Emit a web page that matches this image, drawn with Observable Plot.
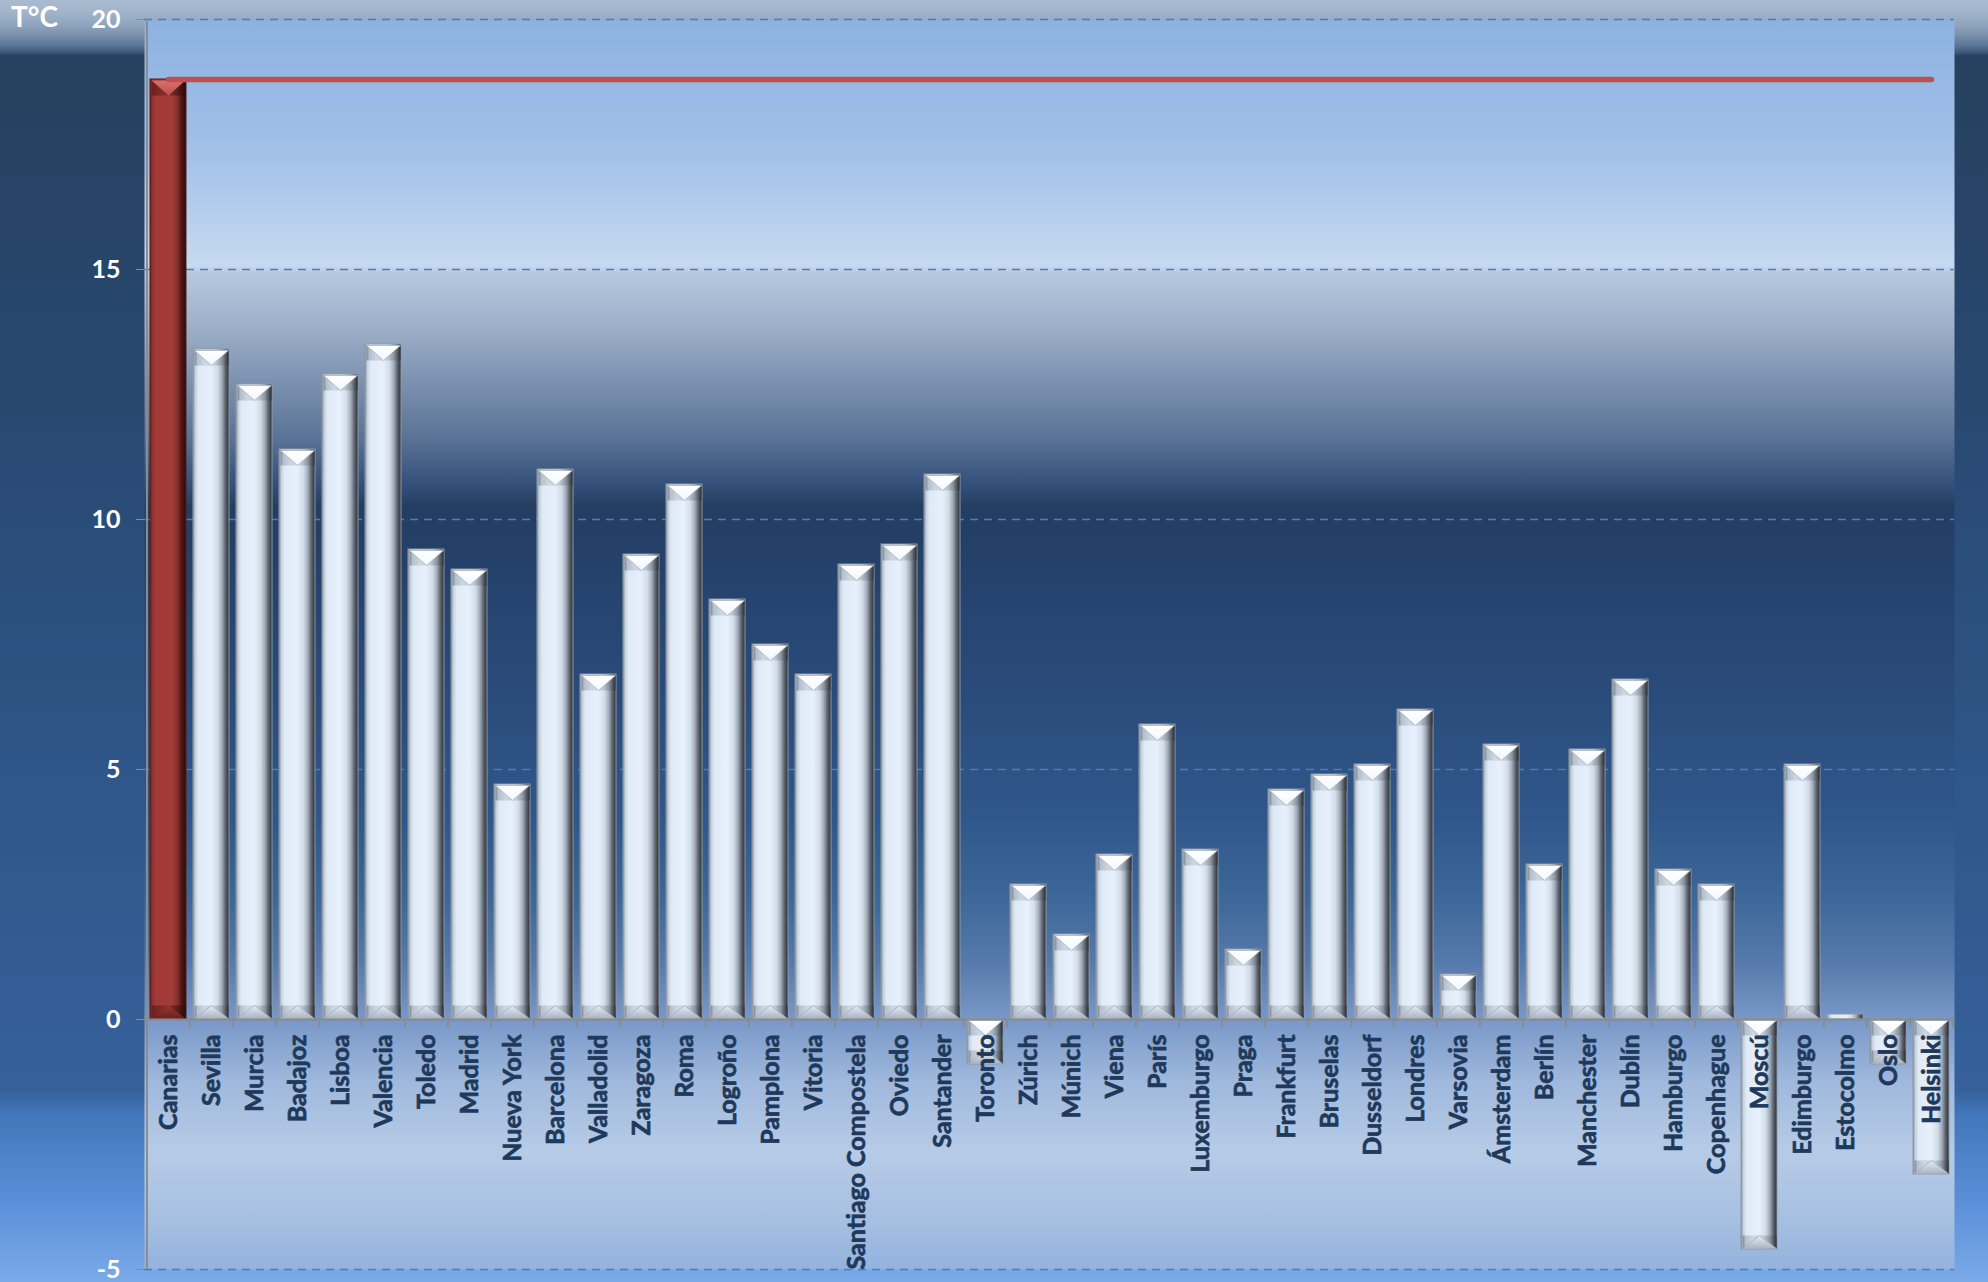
<!DOCTYPE html>
<html>
<head>
<meta charset="utf-8">
<script src="https://cdn.jsdelivr.net/npm/d3@7"></script>
<script src="https://cdn.jsdelivr.net/npm/@observablehq/plot@0.6"></script>
<style>
html, body { margin: 0; padding: 0; }
body { width: 1988px; height: 1282px; overflow: hidden; }
#wrap {
  position: relative; width: 1988px; height: 1282px;
  background: linear-gradient(to bottom,
    #a9bbd0 0px, #a1b4ca 12px, #8fa4be 25px, #7a90ad 35px, #5d7798 45px, #3f5a7d 52px,
    #26415f 56px, #284870 400px, #2f578a 800px, #36609a 1090px, #4377bb 1115px,
    #5a8fd8 1200px, #7aaae8 1282px);
}
#unit {
  position: absolute; left: 11px; top: 2px; color: #fff;
  font: bold 28px Lato, sans-serif; line-height: 1;
}
#wrap svg { position: absolute; left: 0; top: 0; }
#wrap svg [aria-label="y-axis tick label"] text { font-weight: bold; }
</style>
</head>
<body>
<div id="wrap"><div id="unit">T°C</div></div>
<script>
// ---- data ----
const cities = ["Canarias","Sevilla","Murcia","Badajoz","Lisboa","Valencia","Toledo","Madrid",
  "Nueva York","Barcelona","Valladolid","Zaragoza","Roma","Logroño","Pamplona","Vitoria",
  "Santiago Compostela","Oviedo","Santander","Toronto","Zúrich","Múnich","Viena","París",
  "Luxemburgo","Praga","Frankfurt","Bruselas","Dusseldorf","Londres","Varsovia","Ámsterdam",
  "Berlín","Manchester","Dublín","Hamburgo","Copenhague","Moscú","Edimburgo","Estocolmo",
  "Oslo","Helsinki"];
const temps = [18.8, 13.4, 12.7, 11.4, 12.9, 13.5, 9.4, 9.0,
  4.7, 11.0, 6.9, 9.3, 10.7, 8.4, 7.5, 6.9,
  9.1, 9.5, 10.9, -0.9, 2.7, 1.7, 3.3, 5.9,
  3.4, 1.4, 4.6, 4.9, 5.1, 6.2, 0.9, 5.5,
  3.1, 5.4, 6.8, 3.0, 2.7, -4.6, 5.1, 0.1,
  -0.9, -3.1];
const refTemp = 18.8;
const highlight = "Canarias";
const yTicks = [-5, 0, 5, 10, 15, 20];

// ---- layout ----
const W = 1988, H = 1282;
const mL = 144, mR = 34, mT = 19, mB = 13;
const padIn = 0.17, padOut = 0.085;
const step = (W - mL - mR) / cities.length;
const bw = step * (1 - padIn);

const table = cities.map((city, i) => ({city, temp: temps[i]}));
const others = table.filter(d => d.city !== highlight);
const hi = table.filter(d => d.city === highlight);
const bevelOK = d => Math.abs(d.temp) >= 0.5;
const topOf = d => Math.max(0, d.temp);
const botOf = d => Math.min(0, d.temp);

// bevel shapes (pixel sizes relative to the bar)
const hw = bw / 2 - 1;
const TH = 16, BH = 14;
const topBand = {draw(ctx) { ctx.moveTo(-hw, 1); ctx.lineTo(hw, 1); ctx.lineTo(hw, TH); ctx.lineTo(-hw, TH); ctx.closePath(); }};
const topV = {draw(ctx) { ctx.moveTo(-hw, 1); ctx.lineTo(hw, 1); ctx.lineTo(0, TH); ctx.closePath(); }};
const botBand = {draw(ctx) { ctx.moveTo(-hw, -1); ctx.lineTo(hw, -1); ctx.lineTo(hw, -BH); ctx.lineTo(-hw, -BH); ctx.closePath(); }};
const botV = {draw(ctx) { ctx.moveTo(-hw, -1); ctx.lineTo(hw, -1); ctx.lineTo(0, -BH); ctx.closePath(); }};

const labelStyle = {fontFamily: "Lato, sans-serif", fontWeight: "bold"};

const chart = Plot.plot({
  width: W, height: H,
  marginLeft: mL, marginRight: mR, marginTop: mT, marginBottom: mB,
  style: {background: "transparent", fontFamily: "Lato, sans-serif", overflow: "visible"},
  x: {type: "band", domain: cities, paddingInner: padIn, paddingOuter: padOut, axis: null},
  y: {domain: [yTicks[0], yTicks[yTicks.length - 1]], label: null},
  marks: [
    Plot.frame({fill: "url(#plotBg)", stroke: "none"}),
    Plot.gridY(yTicks, {stroke: "#4a7ebf", strokeOpacity: 1, strokeWidth: 1.6, strokeDasharray: "8,6"}),
    Plot.barY(others, {x: "city", y: "temp", fill: "url(#barGrad)", stroke: "#8f99a6", strokeWidth: 1}),
    Plot.barY(hi, {x: "city", y: "temp", fill: "url(#redGrad)", stroke: "#5a1a19", strokeWidth: 1}),
    // bevels
    Plot.dot(others.filter(bevelOK), {x: "city", y: topOf, symbol: topBand, fill: "url(#bevelH)", stroke: "none"}),
    Plot.dot(others.filter(bevelOK), {x: "city", y: topOf, symbol: topV, fill: "url(#whiteTop)", stroke: "#a9b3bf", strokeWidth: 0.8}),
    Plot.dot(others.filter(bevelOK), {x: "city", y: botOf, symbol: botBand, fill: "url(#bevelH)", stroke: "none"}),
    Plot.dot(others.filter(bevelOK), {x: "city", y: botOf, symbol: botV, fill: "url(#grayBot)", stroke: "#a3adb9", strokeWidth: 0.8}),
    Plot.dot(hi, {x: "city", y: topOf, symbol: topBand, fill: "url(#redBevelH)", stroke: "none"}),
    Plot.dot(hi, {x: "city", y: topOf, symbol: topV, fill: "url(#redTop)", stroke: "none"}),
    Plot.dot(hi, {x: "city", y: botOf, symbol: botBand, fill: "url(#redBevelH)", stroke: "none"}),
    Plot.dot(hi, {x: "city", y: botOf, symbol: botV, fill: "url(#redBot)", stroke: "none"}),
    // reference line
    Plot.lineY(cities, {x: d => d, y: () => refTemp, stroke: "#c0504d", strokeWidth: 5.5, strokeLinecap: "round"}),
    // axes
    Plot.ruleY([0], {stroke: "#8c8c8c", strokeWidth: 2}),
    Plot.ruleX(cities.slice(0, 1), {x: d => d, dx: -step / 2, stroke: "#8c8c8c", strokeWidth: 2}),
    Plot.ruleX(cities, {x: d => d, y1: () => 0, y2: () => 0, insetBottom: -8, dx: -step / 2, stroke: "#8c8c8c", strokeWidth: 2}),
    Plot.ruleX(cities.slice(-1), {x: d => d, y1: () => 0, y2: () => 0, insetBottom: -8, dx: step / 2, stroke: "#8c8c8c", strokeWidth: 2}),
    Plot.axisY({ticks: yTicks, tickSize: 8, tickPadding: 16, stroke: "#8c8c8c", fill: "#ffffff", fontSize: 25, label: null, tickFormat: d => String(d)}),
    Plot.text(table, {x: "city", y: () => 0, text: "city", rotate: -90, textAnchor: "end", dy: 15,
      fill: "#1f395b", stroke: "#1f395b", strokeWidth: 0.7, fontSize: 25, ...labelStyle})
  ]
});

d3.select(chart).insert("defs", ":first-child").html(`
  <linearGradient id="plotBg" x1="0" y1="0" x2="0" y2="1">
    <stop offset="0" stop-color="#8db2e1"/>
    <stop offset="0.105" stop-color="#a2c0e8"/>
    <stop offset="0.197" stop-color="#c6d9f1"/>
    <stop offset="0.203" stop-color="#b6c8df"/>
    <stop offset="0.241" stop-color="#a0b3cc"/>
    <stop offset="0.289" stop-color="#7d92b0"/>
    <stop offset="0.337" stop-color="#587194"/>
    <stop offset="0.372" stop-color="#34507a"/>
    <stop offset="0.39" stop-color="#243e62"/>
    <stop offset="0.433" stop-color="#24416a"/>
    <stop offset="0.545" stop-color="#2a4c7b"/>
    <stop offset="0.641" stop-color="#30578b"/>
    <stop offset="0.705" stop-color="#3e6899"/>
    <stop offset="0.753" stop-color="#5579ab"/>
    <stop offset="0.8" stop-color="#7898c8"/>
    <stop offset="0.849" stop-color="#9fb8dc"/>
    <stop offset="0.905" stop-color="#b6cbe6"/>
    <stop offset="0.953" stop-color="#a9c1e2"/>
    <stop offset="1" stop-color="#93b3de"/>
  </linearGradient>
  <linearGradient id="barGrad" x1="0" y1="0" x2="1" y2="0">
    <stop offset="0" stop-color="#7f8a98"/>
    <stop offset="0.06" stop-color="#c4cfdc"/>
    <stop offset="0.15" stop-color="#e0eaf7"/>
    <stop offset="0.5" stop-color="#e7f1fd"/>
    <stop offset="0.68" stop-color="#d3dde9"/>
    <stop offset="0.8" stop-color="#a3adb9"/>
    <stop offset="0.9" stop-color="#5c646f"/>
    <stop offset="1" stop-color="#2c2f34"/>
  </linearGradient>
  <linearGradient id="bevelH" x1="0" y1="0" x2="1" y2="0">
    <stop offset="0" stop-color="#7a8594"/>
    <stop offset="0.08" stop-color="#b3bfcc"/>
    <stop offset="0.3" stop-color="#ccd7e4"/>
    <stop offset="0.6" stop-color="#c5cfdb"/>
    <stop offset="0.8" stop-color="#8e98a4"/>
    <stop offset="1" stop-color="#2c2f34"/>
  </linearGradient>
  <linearGradient id="redGrad" x1="0" y1="0" x2="1" y2="0">
    <stop offset="0" stop-color="#6a2120"/>
    <stop offset="0.06" stop-color="#8e302d"/>
    <stop offset="0.15" stop-color="#a13a37"/>
    <stop offset="0.6" stop-color="#a33c39"/>
    <stop offset="0.75" stop-color="#8a302d"/>
    <stop offset="0.88" stop-color="#4e1716"/>
    <stop offset="1" stop-color="#2a0b0a"/>
  </linearGradient>
  <linearGradient id="redBevelH" x1="0" y1="0" x2="1" y2="0">
    <stop offset="0" stop-color="#6a2120"/>
    <stop offset="0.5" stop-color="#8e302d"/>
    <stop offset="1" stop-color="#2a0b0a"/>
  </linearGradient>
  <linearGradient id="whiteTop" x1="0" y1="0" x2="0" y2="1">
    <stop offset="0" stop-color="#ffffff"/>
    <stop offset="1" stop-color="#f3f8ff"/>
  </linearGradient>
  <linearGradient id="grayBot" x1="0" y1="0" x2="0" y2="1">
    <stop offset="0" stop-color="#e4edf8"/>
    <stop offset="1" stop-color="#aab4c0"/>
  </linearGradient>
  <linearGradient id="redTop" x1="0" y1="0" x2="0" y2="1">
    <stop offset="0" stop-color="#d9706b"/>
    <stop offset="1" stop-color="#b9504c"/>
  </linearGradient>
  <linearGradient id="redBot" x1="0" y1="0" x2="0" y2="1">
    <stop offset="0" stop-color="#9a3431"/>
    <stop offset="1" stop-color="#6a2221"/>
  </linearGradient>
`);

document.getElementById("wrap").appendChild(chart);
</script>
</body>
</html>
